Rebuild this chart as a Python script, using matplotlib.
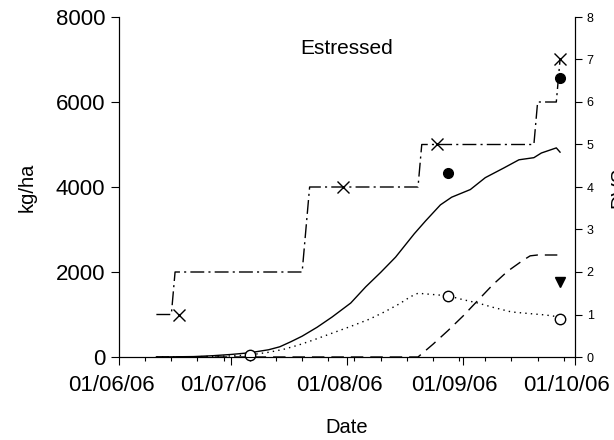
import numpy as np
import pandas as pd
import matplotlib
matplotlib.use("Agg")
import matplotlib.pyplot as plt
import matplotlib.dates as mdates
import matplotlib.transforms as mtransforms

plt.rcParams['font.family'] = ['Liberation Sans', 'DejaVu Sans']

# simulated development stage (right axis), break points of the step line
stage_dates = ["2006-06-11", "2006-06-15", "2006-06-16", "2006-07-20", "2006-07-22",
               "2006-08-20", "2006-08-21", "2006-09-20", "2006-09-21", "2006-09-26", "2006-09-27"]
stage_vals = [1, 1, 2, 2, 4, 4, 5, 5, 6, 6, 7]

# observed stage
obs_stage_dates = ["2006-06-17", "2006-07-31", "2006-08-25", "2006-09-27"]
obs_stage_vals = [1, 4, 5, 7]

# simulated total biomass (kg/ha)
biom_days = [10, 20, 25, 30, 35, 40, 43, 46, 49, 53, 57, 62, 66, 70, 74, 79, 82, 86,
             89, 94, 98, 103, 107, 111, 113, 117, 118]
biom_vals = [0, 10, 30, 60, 100, 170, 240, 360, 490, 700, 940, 1270, 1650, 1990, 2350,
             2900, 3200, 3580, 3760, 3940, 4220, 4450, 4640, 4690, 4800, 4920, 4820]

# simulated leaves (kg/ha)
leaf_days = [10, 20, 30, 35, 40, 44, 48, 52, 57, 62, 67, 71, 75, 78, 80, 84, 88, 92,
             96, 100, 105, 110, 114, 118]
leaf_vals = [0, 5, 25, 50, 110, 180, 280, 400, 560, 720, 890, 1060, 1250, 1420, 1500,
             1470, 1440, 1350, 1270, 1170, 1060, 1020, 990, 940]

# simulated grain (kg/ha)
grain_days = [10, 80, 84, 88, 92, 96, 100, 104, 108, 110, 112, 118]
grain_vals = [0, 0, 300, 620, 960, 1330, 1700, 2020, 2270, 2380, 2400, 2400]

# observations (kg/ha)
obs_biom_dates = ["2006-08-28", "2006-09-27"]
obs_biom_vals = [4330, 6565]
obs_leaf_dates = ["2006-07-06", "2006-08-28", "2006-09-27"]
obs_leaf_vals = [50, 1435, 890]
obs_grain_dates = ["2006-09-27"]
obs_grain_vals = [1765]

month_ticks = ["2006-06-01", "2006-07-01", "2006-08-01", "2006-09-01", "2006-10-01"]

start = pd.Timestamp("2006-06-01")


def to_dates(days):
    return [start + pd.Timedelta(days=d) for d in days]


fig = plt.figure(figsize=(6.14, 4.40), dpi=100)
ax = fig.add_axes([119 / 614, 1 - 357 / 440, 456 / 614, 340 / 440])
ax2 = ax.twinx()

ax.plot(to_dates(biom_days), biom_vals, color='black', lw=1)
ax.plot(to_dates(leaf_days), leaf_vals, color='black', lw=1, ls=(0, (1, 3)))
ax.plot(to_dates(grain_days), grain_vals, color='black', lw=1, ls=(0, (9, 5)))

ax.plot(pd.to_datetime(obs_biom_dates), obs_biom_vals, 'o', color='black', ms=7, zorder=5)
ax.plot(pd.to_datetime(obs_leaf_dates), obs_leaf_vals, 'o', mfc='white', mec='black',
        ms=7.5, mew=1, zorder=5, clip_on=False)
ax.plot(pd.to_datetime(obs_grain_dates), obs_grain_vals, 'v', color='black', ms=7.5, zorder=5)

ax2.plot(pd.to_datetime(stage_dates), stage_vals, color='black', lw=1,
         ls=(0, (10, 3, 1.5, 3)))
ax2.plot(pd.to_datetime(obs_stage_dates), obs_stage_vals, 'x', color='black', ms=8, mew=1)

ax.set_xlim(pd.Timestamp("2006-06-01"), pd.Timestamp("2006-10-01"))
ax.set_ylim(0, 8000)
ax2.set_ylim(0, 8)

ax.set_yticks([0, 2000, 4000, 6000, 8000])
ax.set_xticks(pd.to_datetime(month_ticks))
ax.xaxis.set_major_formatter(mdates.DateFormatter("%d/%m/%y"))
ax.set_xticks(pd.date_range("2006-06-01", "2006-10-01", freq="7D"), minor=True)
ax2.set_yticks(range(0, 9))

ax.spines['top'].set_visible(False)
ax2.spines['top'].set_visible(False)
for s in ['left', 'bottom']:
    ax.spines[s].set_linewidth(0.8)
ax2.spines['right'].set_linewidth(0.8)

ax.tick_params(axis='both', which='major', labelsize=16, length=6, width=0.8)
ax.tick_params(axis='x', which='major', pad=7)
ax.tick_params(axis='y', which='major', pad=4)
ax.tick_params(axis='x', which='minor', length=3, width=0.8)
ax2.tick_params(axis='y', labelsize=9, length=5, width=0.8)

# date labels sit a little left of their ticks in the original
shift = mtransforms.ScaledTranslation(-8 / 100, 0, fig.dpi_scale_trans)
for lab in ax.get_xticklabels():
    lab.set_transform(lab.get_transform() + shift)

ax.set_ylabel("kg/ha", fontsize=14.5, labelpad=14)
ax.set_xlabel("Date", fontsize=14.5, labelpad=16)
ax2.set_ylabel("DVS", fontsize=14.5, labelpad=11)

ax.text(0.5, 0.89, "Estressed", transform=ax.transAxes, fontsize=15, ha='center')

fig.savefig("out.png", dpi=100)
